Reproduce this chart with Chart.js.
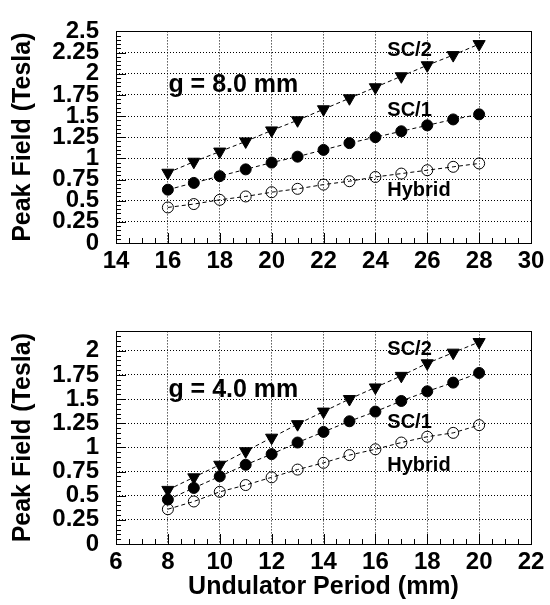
<!DOCTYPE html>
<html>
<head>
<meta charset="utf-8">
<script src="https://cdn.jsdelivr.net/npm/chart.js@4.4.1/dist/chart.umd.min.js"></script>
<style>
body { margin: 0; background: #fff; }
.box { position: absolute; left: 0; width: 550px; }
</style>
</head>
<body>
<div class="box" style="top:0;height:300px"><canvas id="chart8"></canvas></div>
<div class="box" style="top:300px;height:305px"><canvas id="chart4"></canvas></div>
<script>
// gap 8.0 mm
var periods8 = [16, 17, 18, 19, 20, 21, 22, 23, 24, 25, 26, 27, 28]
var sc2_8 = [0.83, 0.96, 1.08, 1.20, 1.33, 1.45, 1.58, 1.71, 1.84, 1.97, 2.10, 2.22, 2.35]
var sc1_8 = [0.63, 0.71, 0.79, 0.87, 0.95, 1.02, 1.10, 1.18, 1.25, 1.32, 1.39, 1.46, 1.52]
var hybrid_8 = [0.42, 0.46, 0.51, 0.55, 0.60, 0.64, 0.69, 0.73, 0.78, 0.82, 0.86, 0.90, 0.94]

// gap 4.0 mm
var periods4 = [8, 9, 10, 11, 12, 13, 14, 15, 16, 17, 18, 19, 20]
var sc2_4 = [0.56, 0.69, 0.82, 0.96, 1.10, 1.24, 1.37, 1.50, 1.62, 1.74, 1.87, 1.98, 2.09]
var sc1_4 = [0.46, 0.58, 0.70, 0.82, 0.93, 1.05, 1.16, 1.27, 1.37, 1.48, 1.58, 1.67, 1.77]
var hybrid_4 = [0.36, 0.44, 0.54, 0.61, 0.69, 0.77, 0.84, 0.92, 0.98, 1.05, 1.11, 1.15, 1.23]

var FONT = '"Liberation Sans", Arial, Helvetica, sans-serif'

function pts(xs, ys) {
    return xs.map(function (x, i) { return { x: x, y: ys[i] } })
}

// frame, inside tick marks (major + minor) and the text notes
var rootFrame = {
    id: 'rootFrame',
    afterDraw: function (chart, args, opts) {
        var ctx = chart.ctx, a = chart.chartArea
        var xs = chart.scales.x, ys = chart.scales.y
        ctx.save()
        ctx.strokeStyle = '#000'
        ctx.lineWidth = 1
        ctx.setLineDash([])
        ctx.beginPath()
        var nx = Math.round((xs.max - xs.min) / 0.5)
        for (var i = 0; i <= nx; i++) {
            var v = xs.min + i * 0.5
            var px = Math.round(xs.getPixelForValue(v)) + 0.5
            var len = (i % 4 === 0) ? 10 : 5
            ctx.moveTo(px, a.bottom)
            ctx.lineTo(px, a.bottom - len)
        }
        var ny = Math.floor((ys.max - ys.min) / 0.05 + 1e-6)
        for (var j = 0; j <= ny; j++) {
            var w = ys.min + j * 0.05
            var py = Math.round(ys.getPixelForValue(w)) + 0.5
            var l2 = (j % 5 === 0) ? 10 : 5
            ctx.moveTo(a.left, py)
            ctx.lineTo(a.left + l2, py)
        }
        ctx.stroke()
        ctx.strokeRect(Math.round(a.left) + 0.5, Math.round(a.top) + 0.5,
            Math.round(a.right - a.left), Math.round(a.bottom - a.top))

        ctx.fillStyle = '#000'
        ctx.textAlign = 'left'
        ctx.textBaseline = 'alphabetic'
        opts.notes.forEach(function (n) {
            ctx.font = 'bold ' + n.size + 'px ' + FONT
            ctx.fillText(n.text, xs.getPixelForValue(n.x), ys.getPixelForValue(n.y))
        })
        ctx.restore()
    }
}

function makeChart(id, xs, sc2, sc1, hyb, xMin, xMax, yMax, xTitle, xAxisHeight, notes) {
    var lineOpts = { borderColor: '#000', borderWidth: 1, borderDash: [4, 3], tension: 0, fill: false }
    return new Chart(document.getElementById(id).getContext('2d'), {
        type: 'line',
        data: {
            datasets: [
                Object.assign({ label: 'SC/2', data: pts(xs, sc2), pointStyle: 'triangle', rotation: 180,
                    pointRadius: 7, pointBackgroundColor: '#000', pointBorderColor: '#000', pointBorderWidth: 1 }, lineOpts),
                Object.assign({ label: 'SC/1', data: pts(xs, sc1), pointStyle: 'circle',
                    pointRadius: 5.5, pointBackgroundColor: '#000', pointBorderColor: '#000', pointBorderWidth: 1 }, lineOpts),
                Object.assign({ label: 'Hybrid', data: pts(xs, hyb), pointStyle: 'circle',
                    pointRadius: 5.5, pointBackgroundColor: 'rgba(0,0,0,0)', pointBorderColor: '#000', pointBorderWidth: 1 }, lineOpts)
            ]
        },
        options: {
            responsive: true,
            maintainAspectRatio: false,
            animation: false,
            layout: { padding: { top: 17, right: 19, bottom: 0, left: 0 } },
            plugins: {
                legend: { display: false },
                tooltip: { enabled: false },
                rootFrame: { notes: notes }
            },
            scales: {
                x: {
                    type: 'linear',
                    min: xMin,
                    max: xMax,
                    afterFit: function (s) { s.height = xAxisHeight },
                    ticks: { stepSize: 2, autoSkip: false, maxRotation: 0, padding: 4, color: '#000',
                        font: { family: FONT, size: 24, weight: 'bold' } },
                    grid: { color: '#000', lineWidth: 1, drawTicks: false },
                    border: { display: false, dash: [1, 2] },
                    title: { display: !!xTitle, text: xTitle, color: '#000', padding: { top: 3, bottom: 3 },
                        font: { family: FONT, size: 25, weight: 'bold' } }
                },
                y: {
                    min: 0,
                    max: yMax,
                    afterFit: function (s) { s.width = 116 },
                    afterBuildTicks: function (s) {
                        s.ticks = s.ticks.filter(function (t) {
                            return Math.abs(t.value / 0.25 - Math.round(t.value / 0.25)) < 1e-6
                        })
                    },
                    ticks: { stepSize: 0.25, includeBounds: false, autoSkip: false, padding: 17, color: '#000',
                        font: { family: FONT, size: 24, weight: 'bold' },
                        callback: function (v) { return String(+v.toFixed(2)) } },
                    grid: { color: '#000', lineWidth: 1, drawTicks: false },
                    border: { display: false, dash: [1, 2] },
                    title: { display: true, text: 'Peak Field (Tesla)', color: '#000', padding: { top: 8, bottom: 0 },
                        font: { family: FONT, size: 25, weight: 'bold' } }
                }
            }
        },
        plugins: [rootFrame]
    })
}

makeChart('chart8', periods8, sc2_8, sc1_8, hybrid_8, 14, 30, 2.5, '', 57, [
    { text: 'g = 8.0 mm', x: 16.02, y: 1.78, size: 25 },
    { text: 'SC/2', x: 24.46, y: 2.214, size: 20 },
    { text: 'SC/1', x: 24.46, y: 1.497, size: 20 },
    { text: 'Hybrid', x: 24.46, y: 0.558, size: 20 }
])

makeChart('chart4', periods4, sc2_4, sc1_4, hybrid_4, 6, 22, 2.2, 'Undulator Period (mm)', 61, [
    { text: 'g = 4.0 mm', x: 8.02, y: 1.52, size: 25 },
    { text: 'SC/2', x: 16.46, y: 1.955, size: 20 },
    { text: 'SC/1', x: 16.46, y: 1.20, size: 20 },
    { text: 'Hybrid', x: 16.46, y: 0.753, size: 20 }
])
</script>
</body>
</html>
